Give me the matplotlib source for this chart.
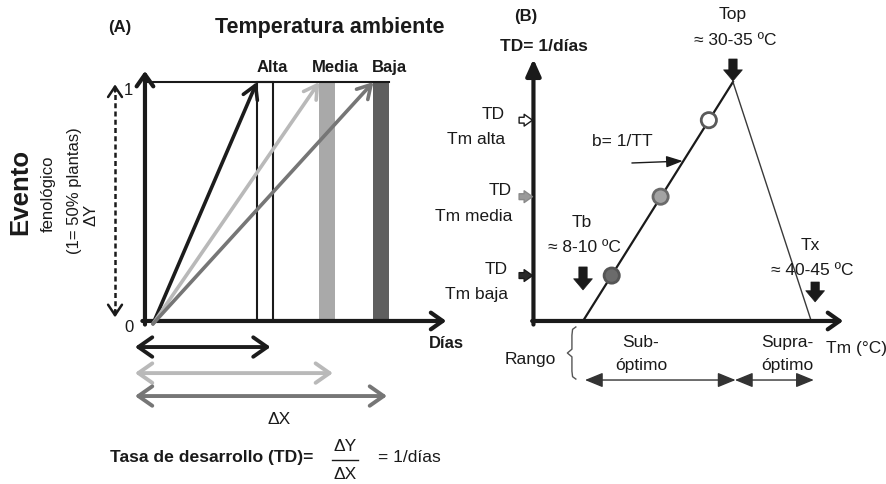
import matplotlib
matplotlib.use('Agg')
import matplotlib.pyplot as plt

plt.rcParams['font.family'] = ['Liberation Sans', 'DejaVu Sans']

# (A) days until the phenological event under each ambient temperature
temp_levels = ['Alta', 'Media', 'Baja']
days_to_event = [10.0, 16.0, 21.2]
event_level = 1.0
level_colors = ['#1c1c1c', '#b9b9b9', '#767676']
bar_colors = ['white', '#a9a9a9', '#5f5f5f']

# (B) development rate (TD) against mean temperature (Tm)
cardinal_names = ['Tb', 'Top', 'Tx']
cardinal_ranges = ['≈ 8-10 ºC', '≈ 30-35 ºC', '≈ 40-45 ºC']
cardinal_temps = [10.0, 33.0, 45.0]
cardinal_td = [0.0, 1.0, 0.0]
tm_labels = ['Tm alta', 'Tm media', 'Tm baja']
tm_values = [29.3, 21.9, 14.4]
td_values = [0.84, 0.52, 0.19]
point_faces = ['white', '#a3a3a3', '#6b6b6b']
td_arrow_faces = ['white', '#9a9a9a', '#2a2a2a']

INK = '#1a1a1a'


def arrow(ax, start, end, style, ec, lw, fc=None, scale=10, ls='-', z=3):
    ax.annotate('', xy=end, xytext=start, zorder=z,
                arrowprops=dict(arrowstyle=style, ec=ec, fc=fc if fc else ec, lw=lw,
                                shrinkA=0, shrinkB=0, mutation_scale=scale,
                                linestyle=ls))


fig = plt.figure(figsize=(8.86, 4.85), dpi=100)
axA = fig.add_axes([0, 0, 450 / 886, 1])
axB = fig.add_axes([450 / 886, 0, 436 / 886, 1])
axA.set_xlim(-14.71, 28.56)
axA.set_ylim(-0.682, 1.347)
axB.set_xlim(-10.40, 56.47)
axB.set_ylim(-0.682, 1.347)
for ax in (axA, axB):
    ax.axis('off')

# ---------------- panel A ----------------
bar_w = 1.5
y_axis_x = -0.77
axA.bar(days_to_event, event_level, width=bar_w, align='edge', color=bar_colors,
        edgecolor=[INK, 'none', 'none'], linewidth=1.5, zorder=1)
axA.plot([y_axis_x, days_to_event[-1] + bar_w], [event_level, event_level],
         color=INK, lw=1.5, zorder=2)

arrow(axA, (y_axis_x, -0.015), (y_axis_x, 1.046), '->,head_length=0.85,head_width=0.6', INK, 3)
arrow(axA, (y_axis_x - 0.25, 0), (28.2, 0), '->,head_length=0.85,head_width=0.6', INK, 3)

for d, col, name in zip(days_to_event, level_colors, temp_levels):
    arrow(axA, (0, -0.012), (d, event_level), '->,head_length=0.95,head_width=0.55', col, 2.6, z=4)
    axA.text(d + bar_w, 1.063, name, ha='center', va='center', fontsize=12,
             fontweight='bold', color=INK)

# spans in days below the axis
span_y = [-0.109, -0.218, -0.314]
for d, col, yb in zip(days_to_event, level_colors, span_y):
    arrow(axA, (-1.73, yb), (d + 1.3, yb), '<->,head_length=1.0,head_width=0.7', col, 2.8)

# dashed delta-Y arrow
dy_x = -3.65
axA.plot([dy_x, dy_x], [0.03, 0.965], color=INK, lw=1.8, ls=(0, (2.0, 1.3)))
arrow(axA, (dy_x, 0.96), (dy_x, 0.99), '->,head_length=0.75,head_width=0.5', INK, 1.8)
arrow(axA, (dy_x, 0.045), (dy_x, 0.015), '->,head_length=0.75,head_width=0.5', INK, 1.8)
axA.text(-2.4, 0.967, '1', ha='center', va='center', fontsize=12, color=INK)
axA.text(-2.3, -0.025, '0', ha='center', va='center', fontsize=12, color=INK)

axA.text(-3.17, 1.234, '(A)', ha='center', va='center', fontsize=12, fontweight='bold', color=INK)
axA.text(17.0, 1.234, 'Temperatura ambiente', ha='center', va='center', fontsize=15.5,
         fontweight='bold', color=INK)
axA.text(28.2, -0.088, 'Días', ha='center', va='center', fontsize=12, fontweight='bold', color=INK)
axA.text(12.1, -0.41, 'ΔX', ha='center', va='center', fontsize=12.5, color=INK)

axA.text(-12.79, 0.544, 'Evento', rotation=90, ha='center', va='center', fontsize=18.5,
         fontweight='bold', color=INK)
axA.text(-10.1, 0.536, 'fenológico', rotation=90, ha='center', va='center', fontsize=12, color=INK)
axA.text(-7.5, 0.548, '(1= 50% plantas)', rotation=90, ha='center', va='center', fontsize=12,
         color=INK)
axA.text(-5.96, 0.448, 'ΔY', rotation=90, ha='center', va='center', fontsize=12, color=INK)

# development rate formula
axA.text(15.4, -0.569, 'Tasa de desarrollo (TD)=', ha='right', va='center', fontsize=12.6,
         fontweight='bold', color=INK)
axA.text(18.46, -0.523, 'ΔY', ha='center', va='center', fontsize=12.5, color=INK)
axA.plot([17.2, 19.7], [-0.582, -0.582], color=INK, lw=1.0)
axA.text(18.46, -0.636, 'ΔX', ha='center', va='center', fontsize=12.5, color=INK)
axA.text(21.63, -0.569, '= 1/días', ha='left', va='center', fontsize=12.5, color=INK)

# ---------------- panel B ----------------
t_axis = 2.4
axB.plot(cardinal_temps[:2], cardinal_td[:2], color=INK, lw=1.6, zorder=3)
axB.plot(cardinal_temps[1:], cardinal_td[1:], color='#3a3a3a', lw=1.0, zorder=3)
arrow(axB, (t_axis, -0.015), (t_axis, 1.096), '-|>,head_length=1.0,head_width=0.45', INK, 3)
arrow(axB, (t_axis - 0.2, 0), (49.9, 0), '->,head_length=0.85,head_width=0.6', INK, 3)

axB.scatter(tm_values, td_values, s=120, c=point_faces,
            edgecolors=['#5a5a5a', '#6a6a6a', '#555555'], linewidths=2.0, zorder=5)

# rates read on the TD axis
label_right = [-2.0, -0.9, -1.5]
for td, lab, fc, xr in zip(td_values, tm_labels, td_arrow_faces, label_right):
    arrow(axB, (0.2, td), (t_axis - 0.15, td),
          'simple,head_length=0.6,head_width=0.85,tail_width=0.42',
          INK if fc != '#9a9a9a' else '#8a8a8a', 1.0, fc=fc)
    axB.text(xr, td + 0.028, 'TD', ha='right', va='center', fontsize=12.5, color=INK)
    axB.text(xr, td - 0.077, lab, ha='right', va='center', fontsize=12.5, color=INK)

axB.text(1.26, 1.276, '(B)', ha='center', va='center', fontsize=12, fontweight='bold', color=INK)
axB.text(4.0, 1.151, 'TD= 1/días', ha='center', va='center', fontsize=12.5,
         fontweight='bold', color=INK)

# cardinal temperatures
name_pos = [(9.85, 0.418), (33.0, 1.285), (44.8, 0.322)]
arrow_span = [(0.226, 0.130), (1.096, 1.004), (0.163, 0.080)]
arrow_x = [10.0, 33.0, 45.6]
for name, rng, (tx, ty), (y0, y1), ax_x in zip(cardinal_names, cardinal_ranges, name_pos,
                                                arrow_span, arrow_x):
    axB.text(tx, ty, name, ha='center', va='center', fontsize=12.5, color=INK)
    axB.text(tx + 0.3, ty - 0.108, rng, ha='center', va='center', fontsize=12.5, color=INK)
    arrow(axB, (ax_x, y0), (ax_x, y1),
          'simple,head_length=0.8,head_width=1.35,tail_width=0.6', INK, 0.5)

# slope of the sub-optimal branch
axB.text(16.0, 0.757, 'b= 1/TT', ha='center', va='center', fontsize=12.5, color=INK)
arrow(axB, (17.5, 0.661), (25.3, 0.669), '-|>,head_length=1.0,head_width=0.35', INK, 1.0)

# temperature ranges under the axis
axB.text(1.87, -0.159, 'Rango', ha='center', va='center', fontsize=12.5, color=INK)
axB.plot([8.9, 8.4, 8.3, 8.3, 7.6, 8.3, 8.3, 8.4, 8.9],
         [-0.025, -0.035, -0.06, -0.118, -0.134, -0.15, -0.21, -0.233, -0.243],
         color='#555555', lw=1.0)
axB.text(18.8, -0.084, 'Sub-', ha='center', va='center', fontsize=12.5, color=INK)
axB.text(19.0, -0.18, 'óptimo', ha='center', va='center', fontsize=12.5, color=INK)
axB.text(41.3, -0.084, 'Supra-', ha='center', va='center', fontsize=12.5, color=INK)
axB.text(41.3, -0.18, 'óptimo', ha='center', va='center', fontsize=12.5, color=INK)
axB.text(52.0, -0.109, 'Tm (°C)', ha='center', va='center', fontsize=12.5, color=INK)
for t0, t1 in [(cardinal_temps[0], cardinal_temps[1]), (cardinal_temps[1], cardinal_temps[2])]:
    arrow(axB, (t0 + 0.3, -0.247), (t1 + 0.4, -0.247),
          '<|-|>,head_length=1.1,head_width=0.45', '#333333', 1.0)

fig.savefig('out.png', dpi=100)
